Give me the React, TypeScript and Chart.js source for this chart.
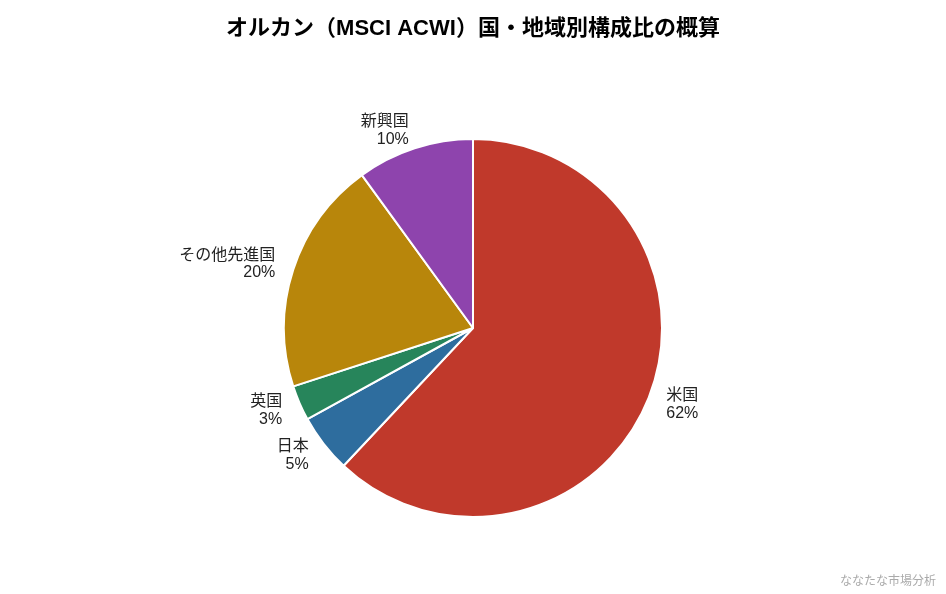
import React, { useEffect, useRef } from "react";
import { Chart, ChartConfiguration, Plugin, registerables } from "chart.js";

Chart.register(...registerables);

const regions = ["米国", "日本", "英国", "その他先進国", "新興国"];
const shares = [62, 5, 3, 20, 10];
const sliceColors = ["#c0392b", "#2e6d9e", "#27855b", "#b8860b", "#8e44ad"];

const FONT = "'Liberation Sans', 'Noto Sans CJK JP', sans-serif";

// draws "name / xx%" outside each slice
const outsideLabels: Plugin<"pie"> = {
    id: "outsideLabels",
    afterDatasetsDraw(chart) {
        const ctx = chart.ctx;
        const meta = chart.getDatasetMeta(0);
        ctx.save();
        ctx.font = `16px ${FONT}`;
        ctx.fillStyle = "#222";
        ctx.textBaseline = "middle";
        meta.data.forEach((el, i) => {
            const { x, y, startAngle, endAngle, outerRadius } = el.getProps(
                ["x", "y", "startAngle", "endAngle", "outerRadius"],
                true
            ) as any;
            const mid = (startAngle + endAngle) / 2;
            const r = outerRadius * 1.1;
            const lx = x + Math.cos(mid) * r;
            const ly = y + Math.sin(mid) * r;
            ctx.textAlign = lx >= x ? "left" : "right";
            ctx.fillText(regions[i], lx, ly - 8.5);
            ctx.fillText(`${shares[i]}%`, lx, ly + 9);
        });
        ctx.restore();
    },
};

const watermark: Plugin<"pie"> = {
    id: "watermark",
    afterDraw(chart) {
        const ctx = chart.ctx;
        ctx.save();
        ctx.font = `12px ${FONT}`;
        ctx.fillStyle = "#aaa";
        ctx.textAlign = "right";
        ctx.textBaseline = "middle";
        ctx.fillText("ななたな市場分析", chart.width - 10, chart.height - 12);
        ctx.restore();
    },
};

const App: React.FC = () => {
    const chartRef = useRef<HTMLCanvasElement>(null);
    const chartInstance = useRef<Chart<"pie"> | null>(null);

    useEffect(() => {
        document.body.style.margin = "0";
        if (!chartRef.current) return;
        const ctx = chartRef.current.getContext("2d");
        if (!ctx) return;
        if (chartInstance.current) chartInstance.current.destroy();

        const config: ChartConfiguration<"pie"> = {
            type: "pie",
            data: {
                labels: regions,
                datasets: [
                    {
                        data: shares,
                        backgroundColor: sliceColors,
                        borderColor: "#fff",
                        borderWidth: 2,
                    },
                ],
            },
            options: {
                responsive: false,
                animation: false,
                layout: { padding: { top: 0, bottom: 76 } },
                plugins: {
                    legend: { display: false },
                    tooltip: { enabled: false },
                    title: {
                        display: true,
                        text: "オルカン（MSCI ACWI）国・地域別構成比の概算",
                        color: "#000",
                        font: { family: FONT, size: 22, weight: "bold", lineHeight: 1.2 },
                        padding: { top: 16, bottom: 95.6 },
                    },
                },
            },
            plugins: [outsideLabels, watermark],
        };

        chartInstance.current = new Chart(ctx, config);

        return () => {
            if (chartInstance.current) {
                chartInstance.current.destroy();
                chartInstance.current = null;
            }
        };
    }, []);

    return (
        <div style={{ width: 946, height: 594, background: "#fff" }}>
            <canvas ref={chartRef} width={946} height={594} style={{ display: "block" }} />
        </div>
    );
};

export default App;
